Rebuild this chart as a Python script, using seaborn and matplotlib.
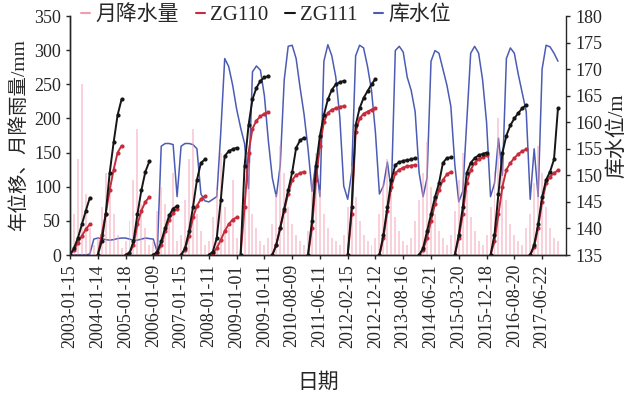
import numpy as np
import pandas as pd
import matplotlib
matplotlib.use("Agg")
import matplotlib.pyplot as plt
from matplotlib.lines import Line2D
import seaborn as sns

# x axis is the sample number; a date label every 7 samples
date_labels = ['2003-01-15', '2004-01-14', '2005-01-18', '2006-01-09', '2007-01-15',
               '2008-01-11', '2009-01-01', '2009-10-11', '2010-08-09', '2011-06-11',
               '2012-02-15', '2012-12-12', '2013-08-16', '2014-06-21', '2015-03-20',
               '2015-12-18', '2016-08-20', '2017-06-22']

# monthly rainfall (mm)
rain = [20, 60, 140, 250, 90, 40, 15, 25, 70, 120, 95, 60, 30, 10, 20, 50, 110, 185, 75, 40,
        15, 20, 65, 100, 75, 45, 120, 20, 30, 80, 140, 185, 60, 35, 15, 20, 55, 95, 150, 70,
        40, 110, 25, 30, 85, 135, 60, 40, 20, 15, 25, 45, 90, 160, 120, 70, 45, 30, 20, 15,
        35, 110, 150, 95, 60, 40, 25, 20, 15, 30, 70, 130, 85, 50, 30, 20, 15, 25, 60, 105,
        140, 90, 55, 35, 20, 15, 25, 50, 80, 120, 165, 100, 60, 35, 25, 15, 30, 65, 110, 150,
        95, 55, 35, 20, 15, 30, 70, 120, 200, 140, 80, 45, 30, 20, 15, 40, 60, 105, 160, 120,
        70, 40, 25, 20]

# annual displacement (mm), restarts from 0 every year
zg110 = [0, 8, 18, 28, 38, 45, np.nan,
         0, 30, 60, 95, 125, 150, 160,
         0, 3, 15, 45, 65, 78, 85,
         0, 3, 15, 35, 52, 62, 68,
         0, 8, 28, 55, 72, 82, 86,
         0, 3, 10, 22, 35, 45, 52, 55,
         0, 70, 150, 185, 197, 203, 207, 209,
         0, 15, 40, 65, 90, 110, 117, 120, 122,
         0, 40, 110, 160, 195, 208, 213, 215, 217, 218,
         0, 60, 180, 200, 207, 210, 213, 215,
         0, 25, 65, 100, 120, 125, 128, 130, 131, 132,
         0, 8, 25, 50, 75, 95, 110, 118, 122,
         0, 25, 60, 105, 125, 135, 140, 143, 146,
         0, 20, 60, 100, 125, 135, 142, 148, 152, 155,
         0, 12, 40, 78, 105, 115, 120, 124]

zg111 = [0, 10, 25, 45, 65, 84, np.nan,
         0, 20, 60, 120, 165, 205, 228,
         0, 3, 20, 60, 95, 122, 137,
         0, 5, 20, 40, 58, 68, 72,
         0, 10, 35, 70, 110, 135, 140,
         0, 5, 25, 80, 145, 152, 155, 157,
         0, 130, 190, 228, 245, 255, 260, 262,
         0, 15, 40, 68, 95, 121, 157, 168, 172,
         0, 50, 130, 175, 205, 228, 242, 250, 253, 255,
         0, 70, 190, 215, 230, 240, 250, 258,
         0, 30, 70, 110, 132, 136, 138, 139, 140, 142,
         0, 10, 35, 60, 85, 105, 135, 142, 143,
         0, 30, 70, 120, 135, 142, 146, 148, 150,
         0, 30, 90, 150, 175, 190, 200, 208, 215, 220,
         0, 15, 45, 85, 110, 122, 140, 215]

# reservoir level (m)
level = [135, 135, 135, 135, 135, 135.2, 138, 138.2, 138.1, 137.9, 137.8, 137.9, 138.1, 138.2,
         138.2, 138, 137.8, 137.8, 138, 138.2, 138.1, 138, 135.5, 155.5, 156, 156, 155.8, 146,
         155.5, 156, 156, 155.8, 155, 146.5, 145.2, 145, 145.5, 146, 158, 172, 170.5, 167,
         162.5, 159, 156, 147.5, 169.5, 170.6, 169.8, 165, 156.5, 149.5, 146, 152, 168, 174.3,
         174.5, 172, 166.5, 161.5, 155, 147, 152.5, 146, 171.5, 174.6, 172.5, 168.5, 161, 148,
         145.5, 150.5, 172.5, 174.5, 174, 170.5, 166, 158, 146.5, 148, 152.5, 147, 173.5, 174.3,
         173.2, 168.5, 166, 162, 150.5, 146, 149.5, 171.5, 173.5, 173, 170, 167, 163, 152,
         145, 147, 160, 173, 174.3, 173, 168, 160, 146, 148.5, 157, 150, 172, 174, 173, 169,
         165.5, 162, 145.5, 155, 146, 170, 174.5, 174.2, 173, 171.5]

idx = np.arange(len(level))

disp = pd.DataFrame({'idx': idx, 'ZG110': zg110, 'ZG111': zg111})
disp['year'] = (disp['ZG111'] == 0).cumsum()
disp_long = disp.melt(id_vars=['idx', 'year'], var_name='series', value_name='value').dropna()

c_rain = '#f39bb0'
c_110 = '#c62c3c'
c_111 = '#161616'
c_lvl = '#4c5cb4'

sns.set_style('ticks')
plt.rcParams['font.family'] = ['Liberation Serif', 'Noto Sans CJK SC']
plt.rcParams['axes.linewidth'] = 1.0

fig, ax = plt.subplots(figsize=(6.38, 4.01), dpi=100)
fig.subplots_adjust(left=0.1097, right=0.887, top=0.96, bottom=0.364)
ax2 = ax.twinx()

ax.bar(idx, rain, width=0.5, color=c_rain, alpha=0.45, linewidth=0)
sns.lineplot(data=disp_long, x='idx', y='value', hue='series', units='year', estimator=None,
             palette={'ZG110': c_110, 'ZG111': c_111}, marker='o', markersize=3,
             markeredgewidth=0, linewidth=1.4, legend=False, ax=ax)
sns.lineplot(x=idx, y=level, color=c_lvl, linewidth=1.1, ax=ax2)

ax.set_zorder(ax2.get_zorder() + 1)
ax.patch.set_visible(False)

ax.set_xlim(0, 125)
ax.set_ylim(0, 350)
ax.set_yticks(np.arange(0, 351, 50))
ax2.set_ylim(135, 180)
ax2.set_yticks(np.arange(135, 181, 5))
ax.set_xticks(np.arange(0, 7 * len(date_labels), 7))
ax.set_xticklabels(date_labels, rotation=90)

for a in (ax, ax2):
    a.spines['top'].set_visible(False)
    a.tick_params(labelsize=13, length=3, width=1)
ax.spines['right'].set_visible(False)

ax.set_xlabel('日期', fontsize=15, labelpad=18)
ax.set_ylabel('年位移、月降雨量/mm', fontsize=14, labelpad=4)
ax2.set_ylabel('库水位/m', fontsize=15, labelpad=4)

handles = [Line2D([], [], color=c, lw=1.5) for c in (c_rain, c_110, c_111, c_lvl)]
ax.legend(handles, ['月降水量', 'ZG110', 'ZG111', '库水位'], loc='upper left',
          bbox_to_anchor=(0.022, 1.045), ncol=4, frameon=False, fontsize=15,
          handlelength=0.45, handletextpad=0.25, columnspacing=0.8,
          borderaxespad=0, borderpad=0)

fig.savefig('out.png', dpi=100)
